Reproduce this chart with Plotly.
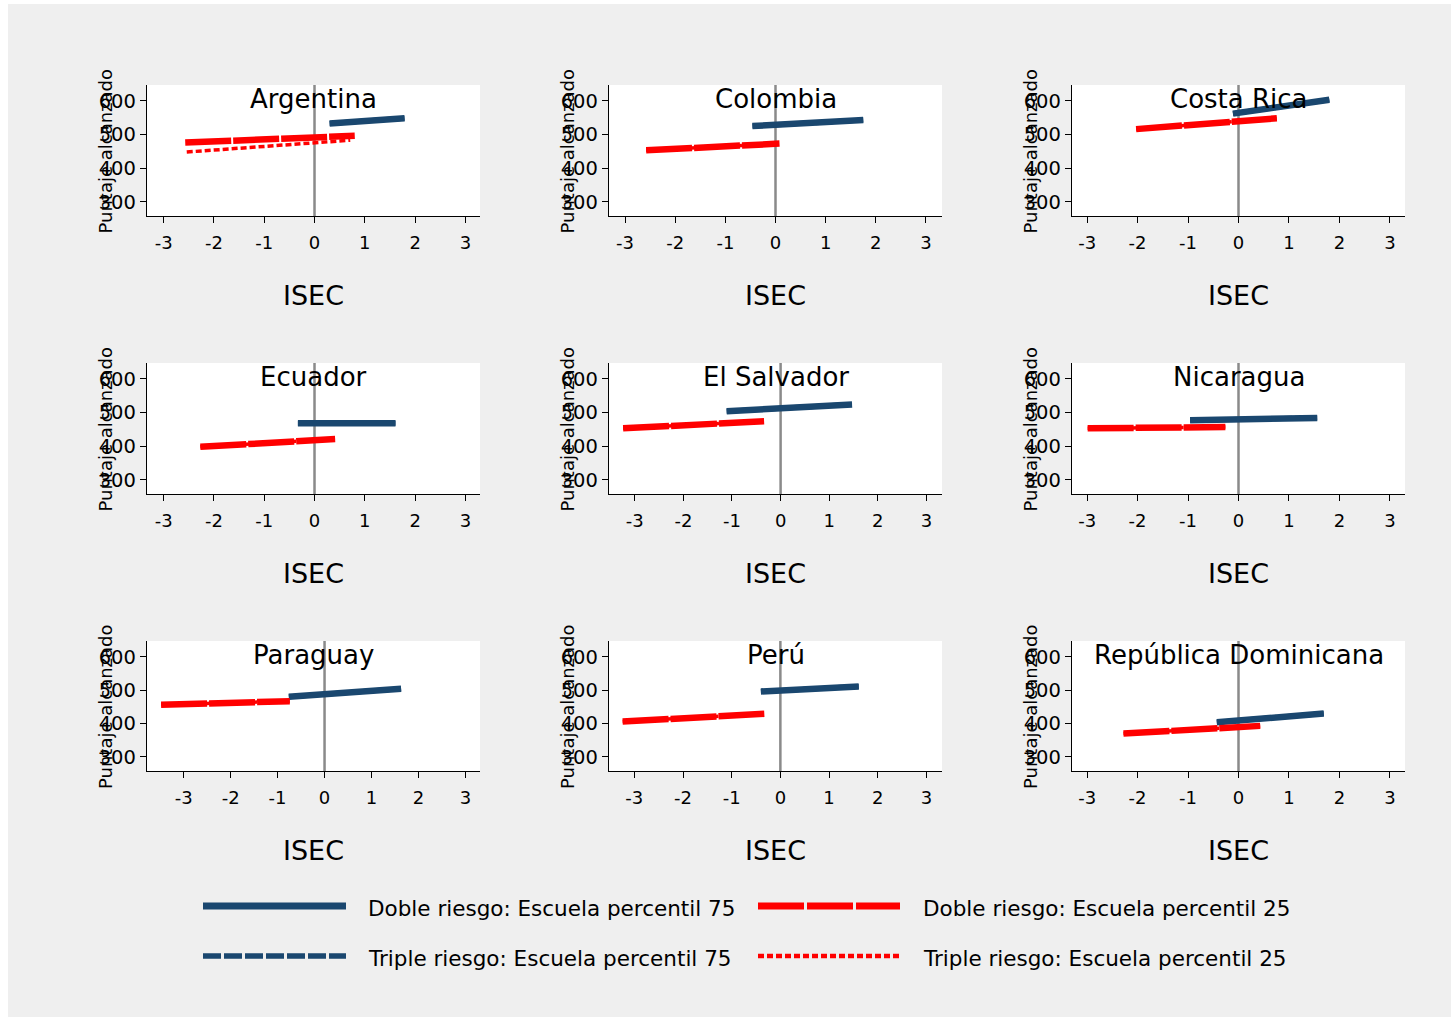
import plotly.graph_objects as go

# Countries, in panel order (row by row)
paises = ["Argentina", "Colombia", "Costa Rica",
          "Ecuador", "El Salvador", "Nicaragua",
          "Paraguay", "Perú", "República Dominicana"]

# Predicted score (Puntaje alcanzado) over the ISEC span of each group:
# [ISEC start, ISEC end] and [score at start, score at end]
doble75_x = [[0.30, 1.79], [-0.46, 1.75], [-0.11, 1.80], [-0.33, 1.61], [-1.11, 1.47],
             [-0.96, 1.56], [-0.76, 1.63], [-0.40, 1.61], [-0.43, 1.69]]
doble75_y = [[533, 548], [525, 543], [562, 603], [468, 468], [504, 524],
             [477, 484], [480, 504], [496, 511], [404, 430]]

triple75_x = [[0.30, 1.79], [-0.46, 1.75], [-0.11, 1.80], [-0.33, 1.61], [-1.11, 1.47],
              [-0.96, 1.56], [-0.76, 1.63], [-0.40, 1.61], [-0.43, 1.69]]
triple75_y = [[533, 548], [525, 543], [562, 603], [468, 468], [504, 524],
              [477, 484], [480, 504], [496, 511], [404, 430]]

doble25_x = [[-2.57, 0.80], [-2.58, 0.08], [-2.03, 0.76], [-2.27, 0.41], [-3.24, -0.34],
             [-2.99, -0.26], [-3.48, -0.74], [-3.24, -0.33], [-2.28, 0.43]]
doble25_y = [[476, 496], [453, 473], [516, 548], [398, 421], [453, 474],
             [453, 457], [456, 467], [406, 429], [370, 393]]

triple25_x = [[-2.54, 0.71], [-2.58, 0.08], [-2.03, 0.76], [-2.27, 0.41], [-3.24, -0.34],
              [-2.99, -0.26], [-3.48, -0.74], [-3.24, -0.33], [-2.28, 0.43]]
triple25_y = [[448, 483], [453, 473], [516, 548], [398, 421], [453, 474],
              [453, 457], [456, 467], [406, 429], [370, 393]]

# Axis ranges per panel
x_ranges = [[-3.33, 3.29], [-3.32, 3.32], [-3.30, 3.30],
            [-3.33, 3.29], [-3.53, 3.32], [-3.30, 3.30],
            [-3.78, 3.31], [-3.52, 3.32], [-3.30, 3.30]]
y_range = [258, 647]
x_ticks = [-3, -2, -1, 0, 1, 2, 3]
x_ticktext = ["-3", "-2", "-1", "0", "1", "2", "3"]
y_ticks = [300, 400, 500, 600]

etiquetas = ["Doble riesgo: Escuela percentil 75", "Doble riesgo: Escuela percentil 25",
             "Triple riesgo: Escuela percentil 75", "Triple riesgo: Escuela percentil 25"]

W, H = 1451, 1017
AZUL = "#1a476f"
ROJO = "#ff0000"
FONT = "DejaVu Sans"

col_px = [(147, 480), (609, 942), (1072, 1405)]
row_px = [(85, 216), (363, 494), (641, 771)]


def fx(px):
    return px / W


def fy(py):
    return 1 - py / H


fig = go.Figure()
layout = dict(
    width=W, height=H, margin=dict(l=0, r=0, t=0, b=0),
    paper_bgcolor="#efefef", plot_bgcolor="white", showlegend=False,
    font=dict(family=FONT, color="black"),
)
shapes = [
    dict(type="rect", xref="paper", yref="paper", x0=0, x1=fx(8), y0=0, y1=1,
         fillcolor="white", line=dict(width=0), layer="below"),
    dict(type="rect", xref="paper", yref="paper", x0=0, x1=1, y0=fy(4), y1=1,
         fillcolor="white", line=dict(width=0), layer="below"),
]
annotations = []

series = [
    (triple75_x, triple75_y, AZUL, 5, "18px,3px"),
    (doble75_x, doble75_y, AZUL, 6.5, "solid"),
    (triple25_x, triple25_y, ROJO, 3.5, "6px,3px"),
    (doble25_x, doble25_y, ROJO, 6.5, "46px,2px"),
]

for i, pais in enumerate(paises):
    r, c = divmod(i, 3)
    n = i + 1
    xa = "x" if n == 1 else f"x{n}"
    ya = "y" if n == 1 else f"y{n}"
    x0p, x1p = col_px[c]
    y0p, y1p = row_px[r]

    for sx, sy, color, width, dash in series:
        fig.add_trace(go.Scatter(
            x=sx[i], y=sy[i], mode="lines", xaxis=xa, yaxis=ya,
            line=dict(color=color, width=width, dash=dash),
            hoverinfo="skip",
        ))

    axis_common = dict(showline=True, linecolor="black", linewidth=1.3,
                       ticks="outside", ticklen=6, tickwidth=1.3, tickcolor="black",
                       showgrid=False, zeroline=False)
    layout[f"xaxis{'' if n == 1 else n}"] = dict(
        domain=[fx(x0p), fx(x1p)], anchor=ya, range=x_ranges[i],
        tickmode="array", tickvals=x_ticks, ticktext=x_ticktext,
        ticklabelstandoff=4, tickfont=dict(family=FONT, size=18, color="black"),
        **axis_common)
    layout[f"yaxis{'' if n == 1 else n}"] = dict(
        domain=[fy(y1p), fy(y0p)], anchor=xa, range=y_range,
        tickmode="array", tickvals=y_ticks,
        tickfont=dict(family=FONT, size=19.5, color="black"), **axis_common)

    # vertical reference at ISEC = 0
    shapes.append(dict(type="line", xref=xa, yref=f"{ya} domain", x0=0, x1=0, y0=0, y1=1,
                       line=dict(color="#8a8a8a", width=2.5), layer="below"))

    # panel title
    annotations.append(dict(text=pais, xref="paper", yref="paper",
                            x=fx((x0p + x1p) / 2), y=fy(y0p + 14), xanchor="center",
                            yanchor="middle", showarrow=False,
                            font=dict(family=FONT, size=26, color="black")))
    # x title
    annotations.append(dict(text="ISEC", xref="paper", yref="paper",
                            x=fx((x0p + x1p) / 2), y=fy(y1p + 79), xanchor="center",
                            yanchor="middle", showarrow=False,
                            font=dict(family=FONT, size=27, color="black")))
    # y title
    annotations.append(dict(text="Puntaje alcanzado", xref="paper", yref="paper",
                            x=fx(x0p - 42), y=fy((y0p + y1p) / 2 + 1), textangle=-90,
                            xanchor="center", yanchor="middle", showarrow=False,
                            font=dict(family=FONT, size=18, color="black")))

# legend keys
leg = [
    (203, 346, 906, AZUL, 7, "solid", 366, etiquetas[0]),
    (758, 900, 906, ROJO, 7, "46px,3px", 921, etiquetas[1]),
    (203, 346, 956, AZUL, 5.5, "18px,3px", 366, etiquetas[2]),
    (758, 900, 956, ROJO, 4.5, "6px,3px", 921, etiquetas[3]),
]
for xa0, xa1, yy, color, width, dash, tx, label in leg:
    shapes.append(dict(type="line", xref="paper", yref="paper",
                       x0=fx(xa0), x1=fx(xa1), y0=fy(yy), y1=fy(yy),
                       line=dict(color=color, width=width, dash=dash)))
    annotations.append(dict(text=label, xref="paper", yref="paper",
                            x=fx(tx), y=fy(yy + 2), xanchor="left", yanchor="middle",
                            showarrow=False,
                            font=dict(family=FONT, size=21.5, color="black")))

layout["shapes"] = shapes
layout["annotations"] = annotations
fig.update_layout(**layout)
fig.write_html("out.html")
